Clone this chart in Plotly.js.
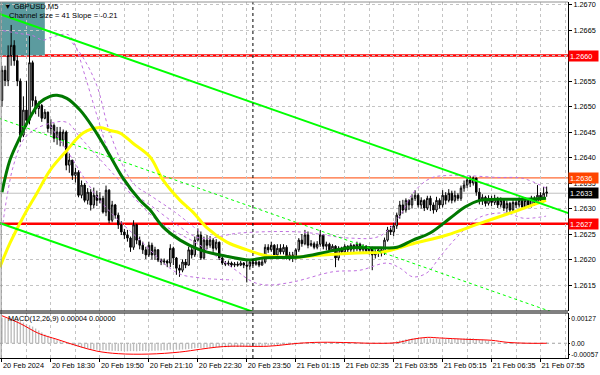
<!DOCTYPE html>
<html><head><meta charset="utf-8">
<script src="https://cdn.plot.ly/plotly-3.0.1.min.js"></script>
<style>html,body{margin:0;padding:0;background:#fff}#chart{width:600px;height:375px}</style>
</head><body><div id="chart"></div>
<script>
// ---- OHLC (GBPUSD M5), one value per bar ----
const openP = [
1.26512,1.26571,1.26551,1.26600,1.26620,1.26590,1.26550,1.26444,1.26493,1.26473,
1.26586,1.26512,1.26496,1.26502,1.26477,1.26489,1.26457,1.26463,1.26438,1.26450,
1.26434,1.26450,1.26385,1.26395,1.26365,1.26371,1.26326,1.26346,1.26316,1.26332,
1.26307,1.26326,1.26316,1.26320,1.26293,1.26336,1.26277,1.26307,1.26287,1.26268,
1.26254,1.26248,1.26242,1.26224,1.26268,1.26238,1.26228,1.26219,1.26209,1.26228,
1.26209,1.26219,1.26199,1.26195,1.26197,1.26193,1.26222,1.26203,1.26183,1.26179,
1.26195,1.26189,1.26219,1.26209,1.26238,1.26248,1.26203,1.26238,1.26228,1.26238,
1.26222,1.26234,1.26203,1.26193,1.26191,1.26193,1.26189,1.26191,1.26189,1.26193,
1.26189,1.26187,1.26195,1.26191,1.26195,1.26189,1.26195,1.26224,1.26219,1.26228,
1.26209,1.26222,1.26215,1.26224,1.26205,1.26209,1.26203,1.26219,1.26238,1.26231,
1.26248,1.26228,1.26231,1.26224,1.26230,1.26248,1.26226,1.26230,1.26219,1.26226,
1.26203,1.26222,1.26215,1.26226,1.26219,1.26228,1.26221,1.26230,1.26219,1.26226,
1.26217,1.26222,1.26209,1.26215,1.26219,1.26213,1.26238,1.26258,1.26254,1.26266,
1.26287,1.26307,1.26297,1.26316,1.26307,1.26320,1.26326,1.26307,1.26316,1.26301,
1.26320,1.26307,1.26297,1.26316,1.26307,1.26326,1.26316,1.26330,1.26316,1.26326,
1.26320,1.26340,1.26346,1.26356,1.26350,1.26360,1.26332,1.26316,1.26322,1.26310,
1.26320,1.26312,1.26320,1.26307,1.26316,1.26301,1.26310,1.26297,1.26312,1.26307,
1.26316,1.26303,1.26316,1.26307,1.26320,1.26312,1.26326,1.26316,1.26330];
const highP = [
1.26580,1.26580,1.26620,1.26660,1.26630,1.26600,1.26555,1.26520,1.26550,1.26638,
1.26590,1.26520,1.26510,1.26505,1.26495,1.26490,1.26475,1.26467,1.26460,1.26460,
1.26455,1.26453,1.26408,1.26395,1.26380,1.26375,1.26355,1.26350,1.26340,1.26338,
1.26341,1.26335,1.26332,1.26325,1.26345,1.26338,1.26315,1.26309,1.26292,1.26275,
1.26260,1.26258,1.26245,1.26277,1.26270,1.26245,1.26235,1.26225,1.26235,1.26233,
1.26225,1.26220,1.26202,1.26202,1.26200,1.26230,1.26225,1.26205,1.26190,1.26200,
1.26201,1.26225,1.26225,1.26245,1.26261,1.26255,1.26245,1.26248,1.26246,1.26242,
1.26240,1.26235,1.26205,1.26197,1.26198,1.26196,1.26195,1.26196,1.26197,1.26195,
1.26200,1.26200,1.26199,1.26200,1.26198,1.26201,1.26230,1.26230,1.26235,1.26230,
1.26230,1.26230,1.26230,1.26228,1.26215,1.26215,1.26222,1.26242,1.26250,1.26258,
1.26255,1.26238,1.26235,1.26236,1.26258,1.26250,1.26235,1.26233,1.26230,1.26228,
1.26226,1.26225,1.26230,1.26228,1.26232,1.26230,1.26235,1.26233,1.26230,1.26228,
1.26226,1.26225,1.26220,1.26223,1.26222,1.26243,1.26264,1.26266,1.26272,1.26292,
1.26315,1.26317,1.26320,1.26318,1.26328,1.26336,1.26330,1.26322,1.26318,1.26325,
1.26325,1.26312,1.26323,1.26320,1.26336,1.26332,1.26338,1.26335,1.26335,1.26330,
1.26345,1.26355,1.26362,1.26364,1.26363,1.26360,1.26340,1.26328,1.26325,1.26326,
1.26325,1.26327,1.26323,1.26322,1.26320,1.26316,1.26313,1.26318,1.26318,1.26322,
1.26320,1.26322,1.26320,1.26325,1.26324,1.26346,1.26332,1.26342,1.26343];
const lowP = [
1.26500,1.26540,1.26540,1.26580,1.26580,1.26540,1.26430,1.26440,1.26460,1.26465,
1.26500,1.26485,1.26480,1.26470,1.26475,1.26449,1.26445,1.26430,1.26425,1.26422,
1.26422,1.26375,1.26370,1.26356,1.26351,1.26322,1.26320,1.26312,1.26308,1.26296,
1.26300,1.26305,1.26310,1.26290,1.26285,1.26271,1.26273,1.26280,1.26260,1.26248,
1.26240,1.26235,1.26215,1.26219,1.26230,1.26220,1.26211,1.26201,1.26205,1.26200,
1.26199,1.26195,1.26189,1.26190,1.26185,1.26185,1.26189,1.26170,1.26166,1.26175,
1.26183,1.26188,1.26202,1.26205,1.26235,1.26199,1.26200,1.26220,1.26223,1.26215,
1.26218,1.26199,1.26189,1.26187,1.26188,1.26185,1.26185,1.26186,1.26187,1.26183,
1.26155,1.26180,1.26187,1.26188,1.26185,1.26188,1.26192,1.26213,1.26215,1.26202,
1.26205,1.26210,1.26210,1.26200,1.26198,1.26195,1.26200,1.26215,1.26225,1.26228,
1.26222,1.26225,1.26220,1.26220,1.26225,1.26220,1.26218,1.26215,1.26215,1.26185,
1.26198,1.26210,1.26210,1.26213,1.26215,1.26214,1.26216,1.26213,1.26215,1.26212,
1.26210,1.26179,1.26202,1.26205,1.26206,1.26209,1.26235,1.26248,1.26246,1.26260,
1.26280,1.26290,1.26292,1.26297,1.26300,1.26315,1.26302,1.26300,1.26295,1.26297,
1.26295,1.26290,1.26293,1.26300,1.26302,1.26308,1.26312,1.26310,1.26312,1.26315,
1.26315,1.26333,1.26340,1.26342,1.26345,1.26325,1.26308,1.26307,1.26304,1.26306,
1.26305,1.26307,1.26301,1.26302,1.26295,1.26292,1.26292,1.26294,1.26301,1.26302,
1.26298,1.26299,1.26301,1.26302,1.26306,1.26309,1.26310,1.26312,1.26323];
const closeP = [
1.26571,1.26551,1.26600,1.26620,1.26590,1.26550,1.26444,1.26493,1.26473,1.26586,
1.26512,1.26496,1.26502,1.26477,1.26489,1.26457,1.26463,1.26438,1.26450,1.26434,
1.26450,1.26385,1.26395,1.26365,1.26371,1.26326,1.26346,1.26316,1.26332,1.26307,
1.26326,1.26316,1.26320,1.26293,1.26336,1.26277,1.26307,1.26287,1.26268,1.26254,
1.26248,1.26242,1.26224,1.26268,1.26238,1.26228,1.26219,1.26209,1.26228,1.26209,
1.26219,1.26199,1.26195,1.26197,1.26193,1.26222,1.26203,1.26183,1.26179,1.26195,
1.26189,1.26219,1.26209,1.26238,1.26248,1.26203,1.26238,1.26228,1.26238,1.26222,
1.26234,1.26203,1.26193,1.26191,1.26193,1.26189,1.26191,1.26189,1.26193,1.26189,
1.26187,1.26195,1.26191,1.26195,1.26189,1.26195,1.26224,1.26219,1.26228,1.26209,
1.26222,1.26215,1.26224,1.26205,1.26209,1.26203,1.26219,1.26238,1.26231,1.26248,
1.26228,1.26231,1.26224,1.26230,1.26248,1.26226,1.26230,1.26219,1.26226,1.26203,
1.26222,1.26215,1.26226,1.26219,1.26228,1.26221,1.26230,1.26219,1.26226,1.26217,
1.26222,1.26209,1.26215,1.26219,1.26213,1.26238,1.26258,1.26254,1.26266,1.26287,
1.26307,1.26297,1.26316,1.26307,1.26320,1.26326,1.26307,1.26316,1.26301,1.26320,
1.26307,1.26297,1.26316,1.26307,1.26326,1.26316,1.26330,1.26316,1.26326,1.26320,
1.26340,1.26346,1.26356,1.26350,1.26360,1.26332,1.26316,1.26322,1.26310,1.26320,
1.26312,1.26320,1.26307,1.26316,1.26301,1.26310,1.26297,1.26312,1.26307,1.26316,
1.26303,1.26316,1.26307,1.26320,1.26312,1.26326,1.26316,1.26330,1.26332];

// ---- MACD(12,26,9) histogram per bar, signal line read at sample bars ----
const macdHist = [
0.00130,0.00128,0.00125,0.00122,0.00120,0.00118,0.00112,0.00105,0.00098,0.00092,
0.00085,0.00075,0.00065,0.00055,0.00045,0.00038,0.00030,0.00022,0.00015,0.00010,
0.00005,0.00000,-0.00005,-0.00010,-0.00015,-0.00018,-0.00022,-0.00025,-0.00028,-0.00030,
-0.00032,-0.00033,-0.00035,-0.00036,-0.00036,-0.00037,-0.00038,-0.00038,-0.00039,-0.00040,
-0.00040,-0.00041,-0.00040,-0.00040,-0.00041,-0.00040,-0.00040,-0.00039,-0.00039,-0.00038,
-0.00038,-0.00037,-0.00037,-0.00036,-0.00035,-0.00033,-0.00033,-0.00033,-0.00033,-0.00032,
-0.00031,-0.00029,-0.00028,-0.00026,-0.00024,-0.00024,-0.00023,-0.00022,-0.00021,-0.00021,
-0.00020,-0.00020,-0.00020,-0.00020,-0.00020,-0.00019,-0.00019,-0.00019,-0.00018,-0.00018,
-0.00018,-0.00017,-0.00017,-0.00016,-0.00016,-0.00015,-0.00013,-0.00012,-0.00011,-0.00010,
-0.00010,-0.00009,-0.00008,-0.00008,-0.00007,-0.00007,-0.00006,-0.00005,-0.00004,-0.00003,
-0.00003,-0.00002,-0.00002,-0.00001,-0.00001,0.00000,0.00000,-0.00001,-0.00001,-0.00002,
-0.00002,-0.00002,-0.00002,-0.00002,-0.00001,-0.00001,-0.00001,-0.00001,-0.00001,-0.00002,
-0.00002,-0.00002,-0.00003,-0.00003,-0.00003,-0.00002,0.00000,0.00003,0.00006,0.00010,
0.00014,0.00017,0.00020,0.00022,0.00024,0.00025,0.00026,0.00026,0.00026,0.00025,
0.00025,0.00024,0.00024,0.00023,0.00023,0.00023,0.00022,0.00022,0.00022,0.00023,
0.00023,0.00024,0.00025,0.00026,0.00026,0.00022,0.00020,0.00018,0.00015,0.00012,
0.00009,0.00006,0.00003,0.00000,-0.00002,-0.00003,-0.00004,-0.00004,-0.00004,-0.00003,
-0.00003,-0.00003,-0.00002,-0.00002,-0.00001,-0.00001,0.00000,0.00002,0.00004];
const sigBar = [0,6,12,18,25,31,38,48,58,65,70,75,87,97,104,114,121,129,134,139,143,152,160,165,172,178];
const sigVal = [0.00140,0.00100,0.00050,0.00020,-0.00015,-0.00040,-0.00053,-0.00055,-0.00045,-0.00030,-0.00020,-0.00015,-0.00015,0.00000,0.00005,0.00003,0.00000,0.00003,0.00020,0.00030,0.00027,0.00020,0.00015,0.00005,0.00000,0.00000];

// ---- moving averages (read at sample bars) ----
const maGreenBar = [0,2.6,5.9,9.2,12.4,15.7,18,21.2,25.5,29.7,34.3,39.5,45.1,48.4,52.6,58.2,64.7,71.2,81,85.3,97.4,106.2,113.7,123.5,129.1,134.3,139.9,146.4,151.3,156.2,161.8,169.3,177.8];
const maGreenVal = [1.26332,1.26395,1.26440,1.26479,1.26508,1.26520,1.26522,1.26516,1.26493,1.26459,1.26414,1.26360,1.26316,1.26297,1.26264,1.26238,1.26219,1.26209,1.26199,1.26203,1.26205,1.26215,1.26223,1.26223,1.26224,1.26238,1.26252,1.26281,1.26303,1.26316,1.26318,1.26318,1.26320];
const maYellowBar = [-0.7,2.6,6.9,11.4,15.7,21.2,26.5,32,35.3,38.6,42.8,48.4,52.6,58.2,62.4,67,73.5,80.1,85.3,90.8,97.4,104.9,116,124.5,134.3,145.4,156.2,167,173.5,177.8];
const maYellowVal = [1.26185,1.26232,1.26283,1.26330,1.26375,1.26414,1.26448,1.26459,1.26453,1.26448,1.26428,1.26401,1.26356,1.26316,1.26293,1.26262,1.26234,1.26219,1.26209,1.26205,1.26205,1.26209,1.26213,1.26215,1.26231,1.26248,1.26271,1.26293,1.26307,1.26316];

// ---- envelope bands (violet dotted) ----
const bandUpABar = [0.3,5.9,10.1,13.4,15.7,21.6,23.9,27.1,31,35.3,41.8,48.4,57.2,64.7,77.8,97.4,113.7,123.5,130.1,134.3,139.9,146.4,161.8,170.3,177.8];
const bandUpAVal = [1.26649,1.26643,1.26639,1.26630,1.26635,1.26641,1.26620,1.26561,1.26483,1.26405,1.26336,1.26307,1.26268,1.26242,1.26252,1.26254,1.26242,1.26246,1.26287,1.26330,1.26359,1.26365,1.26361,1.26359,1.26340];
const bandUpBBar = [21.6,26.5,31,35.3,42.8,48.4,56.5,64.7];
const bandUpBVal = [1.26635,1.26596,1.26541,1.26448,1.26350,1.26326,1.26293,1.26254];
const bandLoABar = [0.3,1.6,3.6,6.9,10.1,15.7,21.2,25.5,35.3,50.7,64.7,75.5,82,86.6,95.1,108.2,117,125.8,130.1,134.3,138.9,143.1,148.7,156.2,165,170.3,177.8];
const bandLoAVal = [1.26271,1.26322,1.26381,1.26434,1.26453,1.26467,1.26469,1.26440,1.26375,1.26277,1.26228,1.26183,1.26156,1.26150,1.26156,1.26176,1.26179,1.26193,1.26183,1.26166,1.26174,1.26205,1.26244,1.26283,1.26291,1.26281,1.26285];
const bandLoBBar = [15.7,21.2,32,45.1,57.2,64.7,75.5];
const bandLoBVal = [1.26463,1.26414,1.26316,1.26238,1.26174,1.26164,1.26160];

// ---- regression channel (size 41, slope -0.21) ----
const chanBar = [-1, 186];
const chanUpper = [1.26682, 1.26289];
const chanMid = [1.26477, 1.26084];
const chanLower = [1.26272, 1.25879];

// ---- levels & objects ----
const levelPrices = [1.2660, 1.2636, 1.2627];
const levelText = ['1.2660', '1.2636', '1.2627'];
const levelColors = ['#ff0000', '#ff4500', '#ff0000'];
const levelWidths = [2.5, 1, 2.5];
const bidPrice = 1.2633;
const bidText = '1.2633';
const zoneBar = [-1, 14];
const zonePrice = [1.2660, 1.2672];
const daySeparatorBar = 82;

// ---- axes ----
const xTickBars = [0,16,32,48,64,80,96,112,128,144,160,176];
const xTickText = ['20 Feb 2024','20 Feb 18:30','20 Feb 19:50','20 Feb 21:10','20 Feb 22:30','20 Feb 23:50','21 Feb 01:15','21 Feb 02:35','21 Feb 03:55','21 Feb 05:15','21 Feb 06:35','21 Feb 07:55'];
const priceTicks = [1.2615,1.2620,1.2625,1.2630,1.2635,1.2640,1.2645,1.2650,1.2655,1.2660,1.2665,1.2670];
// 1.2660 is shown by its red level box, so the plain tick text under it is left blank
const priceTickText = ['1.2615','1.2620','1.2625','1.2630','1.2635','1.2640','1.2645','1.2650','1.2655','','1.2665','1.2670'];
const macdTicks = [-0.00057, 0, 0.00127];
const macdTickText = ['-0.00057', '0.00', '0.00127'];

const barIdx = Array.from({length: closeP.length}, (_, i) => i);
const FONT = 'Liberation Sans, Arial, DejaVu Sans, sans-serif';
const FS = 7.3;
const violet = '#c070e0';
const gridCol = '#c4c4c4';

const dotted = (x, y) => ({type:'scatter', mode:'lines', x, y, xaxis:'x', yaxis:'y',
  line:{color:violet, width:1, dash:'dot', shape:'spline'}, hoverinfo:'skip'});

const traces = [
  {type:'candlestick', x:barIdx, open:openP, high:highP, low:lowP, close:closeP, xaxis:'x', yaxis:'y',
   increasing:{line:{color:'#000', width:1}, fillcolor:'#ffffff'},
   decreasing:{line:{color:'#000', width:1}, fillcolor:'#000000'},
   whiskerwidth:0, hoverinfo:'skip'},
  dotted(bandUpABar, bandUpAVal),
  dotted(bandUpBBar, bandUpBVal),
  dotted(bandLoABar, bandLoAVal),
  dotted(bandLoBBar, bandLoBVal),
  {type:'scatter', mode:'lines', x:maYellowBar, y:maYellowVal, xaxis:'x', yaxis:'y',
   line:{color:'#ffff00', width:3, shape:'spline'}, hoverinfo:'skip'},
  {type:'scatter', mode:'lines', x:maGreenBar, y:maGreenVal, xaxis:'x', yaxis:'y',
   line:{color:'#007800', width:3, shape:'spline'}, hoverinfo:'skip'},
  {type:'scatter', mode:'lines', x:chanBar, y:chanMid, xaxis:'x', yaxis:'y',
   line:{color:'#00ff00', width:1, dash:'dot'}, hoverinfo:'skip'},
  {type:'scatter', mode:'lines', x:chanBar, y:chanUpper, xaxis:'x', yaxis:'y',
   line:{color:'#00ff00', width:2}, hoverinfo:'skip'},
  {type:'scatter', mode:'lines', x:chanBar, y:chanLower, xaxis:'x', yaxis:'y',
   line:{color:'#00ff00', width:2}, hoverinfo:'skip'},
  {type:'bar', x:barIdx, y:macdHist, xaxis:'x', yaxis:'y2', marker:{color:'#bdbdbd', line:{width:0}}, hoverinfo:'skip'},
  {type:'scatter', mode:'lines', x:sigBar, y:sigVal, xaxis:'x', yaxis:'y2',
   line:{color:'#ff0000', width:1, shape:'spline'}, hoverinfo:'skip'}
];

const shapes = [
  {type:'rect', xref:'x', yref:'y', x0:zoneBar[0], x1:zoneBar[1], y0:zonePrice[0], y1:zonePrice[1],
   fillcolor:'#5c9b9f', line:{width:0}, layer:'below'},
  {type:'line', xref:'paper', yref:'y', x0:0, x1:1, y0:bidPrice, y1:bidPrice, line:{color:'#c0c0c0', width:1}, layer:'between'},
  {type:'line', xref:'x', yref:'paper', x0:daySeparatorBar, x1:daySeparatorBar, y0:0, y1:1, line:{color:'#000', width:1, dash:'dot'}},
  {type:'line', xref:'paper', yref:'y2', x0:0, x1:1, y0:0, y1:0, line:{color:'#a0a0a0', width:1, dash:'dot'}, layer:'between'},
  {type:'line', xref:'paper', yref:'paper', x0:0, x1:1, y0:1, y1:1, line:{color:'#909090', width:1}},
  {type:'line', xref:'paper', yref:'paper', x0:0.002, x1:0.002, y0:0, y1:1, line:{color:'#909090', width:1}},
  {type:'line', xref:'paper', yref:'paper', x0:0, x1:1, y0:0.132, y1:0.132, line:{color:'#000', width:1}},
  {type:'line', xref:'paper', yref:'paper', x0:0, x1:1, y0:0.1264, y1:0.1264, line:{color:'#000', width:1}}
];
levelPrices.forEach((p, k) => shapes.push({type:'line', xref:'paper', yref:'y', x0:0, x1:1, y0:p, y1:p,
  line:{color:levelColors[k], width:levelWidths[k]}, layer:'between'}));

const annotations = [
  {xref:'paper', yref:'paper', x:0.004, y:0.986, xanchor:'left', yanchor:'middle', showarrow:false,
   text:'▼ GBPUSD,M5', font:{family:FONT, size:7.6, color:'#000'}},
  {xref:'paper', yref:'paper', x:0.012, y:0.9607, xanchor:'left', yanchor:'middle', showarrow:false,
   text:'Channel size = 41 Slope = -0.21', font:{family:FONT, size:7.6, color:'#000'}},
  {xref:'paper', yref:'paper', x:0.010, y:0.1096, xanchor:'left', yanchor:'middle', showarrow:false,
   text:'MACD(12,26,9) 0.00004 0.00000', font:{family:FONT, size:7.3, color:'#000'}}
];
levelPrices.forEach((p, k) => annotations.push({xref:'paper', yref:'y', x:1, y:p, xanchor:'left', yanchor:'middle',
  showarrow:false, text:levelText[k], bgcolor:levelColors[k], borderpad:1, width:27, height:8, align:'left',
  font:{family:FONT, size:FS, color:'#fff'}}));
annotations.push({xref:'paper', yref:'y', x:1, y:bidPrice, xanchor:'left', yanchor:'middle',
  showarrow:false, text:bidText, bgcolor:'#000', borderpad:1, width:27, height:8, align:'left',
  font:{family:FONT, size:FS, color:'#fff'}});

const layout = {
  width:600, height:375,
  margin:{l:0, r:32, t:2, b:17, pad:0},
  paper_bgcolor:'#fff', plot_bgcolor:'#fff',
  showlegend:false, hovermode:false, bargap:0.55,
  font:{family:FONT, size:FS, color:'#000'},
  xaxis:{domain:[0,1], range:[-0.65,184.97], anchor:'y2', type:'linear',
    tickmode:'array', tickvals:xTickBars, ticktext:xTickText, ticklabelposition:'outside right',
    tickangle:0, automargin:false,
    ticks:'outside', ticklen:3, tickcolor:'#000',
    showgrid:true, gridcolor:gridCol, griddash:'3px,3px', gridwidth:1,
    minor:{tick0:0, dtick:8, showgrid:true, gridcolor:gridCol, griddash:'3px,3px', gridwidth:1, ticks:''},
    zeroline:false, showline:true, linecolor:'#000', linewidth:1,
    rangeslider:{visible:false}, tickfont:{family:FONT, size:FS, color:'#000'}, fixedrange:true},
  yaxis:{domain:[0.132,1], range:[1.26099,1.26705], anchor:'x', side:'right',
    tickmode:'array', tickvals:priceTicks, ticktext:priceTickText, automargin:false,
    ticks:'outside', ticklen:3, tickcolor:'#000',
    showgrid:true, gridcolor:gridCol, griddash:'3px,3px', gridwidth:1,
    zeroline:false, showline:true, linecolor:'#000', linewidth:1,
    tickfont:{family:FONT, size:FS, color:'#000'}, fixedrange:true},
  yaxis2:{domain:[0,0.1264], range:[-0.00075,0.00154], anchor:'x', side:'right',
    tickmode:'array', tickvals:macdTicks, ticktext:macdTickText, automargin:false,
    ticks:'outside', ticklen:1, tickcolor:'#000',
    showgrid:false, zeroline:false, showline:true, linecolor:'#000', linewidth:1,
    tickfont:{family:FONT, size:6.8, color:'#000'}, fixedrange:true},
  shapes, annotations
};

Plotly.newPlot('chart', traces, layout, {displayModeBar:false, staticPlot:true});
</script>
</body></html>
